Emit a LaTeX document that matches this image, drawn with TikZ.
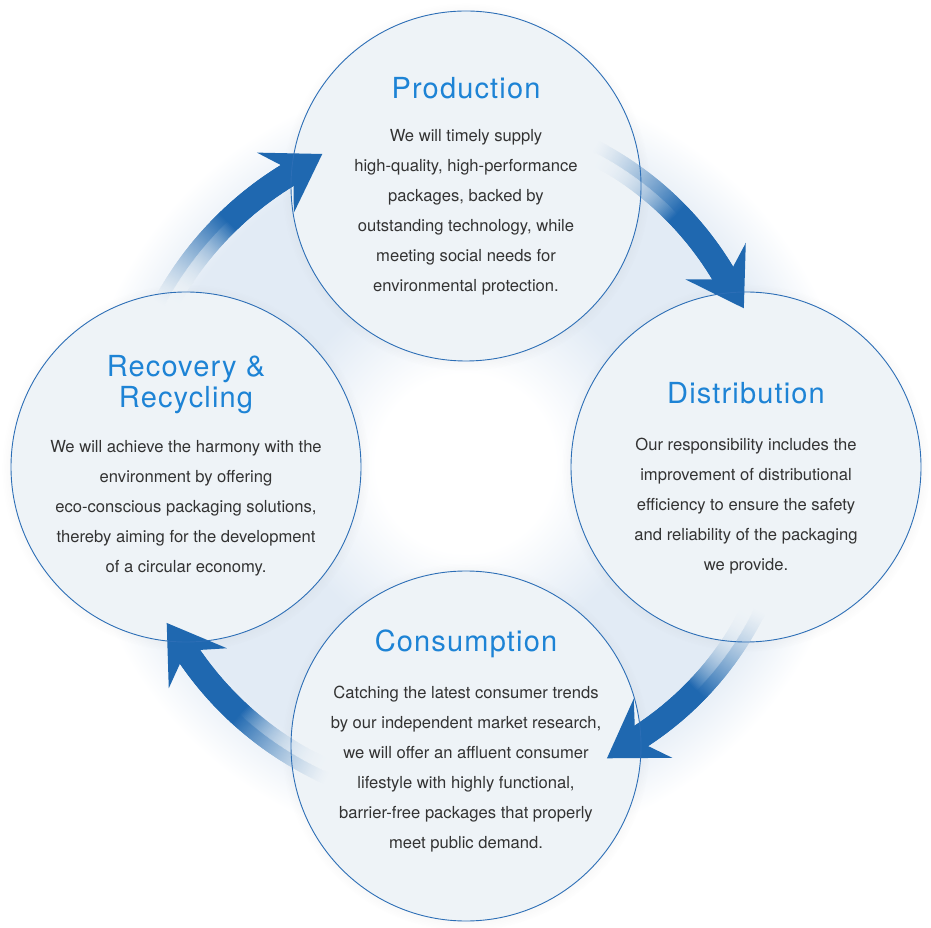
\documentclass[tikz,border=0pt]{standalone}
\usepackage{fontspec}
\setmainfont{TeX Gyre Heros}
\newfontfamily\headfont[LetterSpace=4]{TeX Gyre Heros}
\usetikzlibrary{positioning,shadows}

\definecolor{arrowblue}{RGB}{31,104,176}
\definecolor{rimblue}{RGB}{44,110,182}
\definecolor{headblue}{RGB}{29,131,213}
\definecolor{bubblefill}{RGB}{238,243,247}
\definecolor{glowblue}{RGB}{226,235,245}
\definecolor{inktext}{RGB}{51,51,51}

% light ring behind the four bubbles
\pgfdeclareradialshading{ringglow}{\pgfpoint{0bp}{0bp}}{color(0bp)=(white); color(4.8bp)=(white);
  color(10bp)=(glowblue); color(17.2bp)=(glowblue); color(21bp)=(white); color(50bp)=(white)}

% curved arrow round a hub: #1 hub, #2 radius, #3 angle of the neck, #4 angle of the tail
\newcommand{\cyclearrow}[4]{%
  \begin{scope}[shift={#1}, rotate=#3]
    \pgfmathsetmacro{\rout}{#2+6}
    \pgfmathsetmacro{\rin}{#2-6}
    \pgfmathsetmacro{\sweep}{#4-#3}
    \foreach \k in {119,118,...,0}{
      \pgfmathsetmacro{\aa}{ifthenelse(\k==0,-0.6,\sweep*\k/120-0.3)}
      \pgfmathsetmacro{\ab}{\sweep*(\k+1)/120}
      \pgfmathsetmacro{\pout}{100*min(1,1.7*(1-(\k+0.5)/120))^1.4}
      \pgfmathsetmacro{\pin}{100*min(1,1.7*(1-(\k+0.5)/120))^2.6}
      \draw[arrowblue!\pout!bubblefill, line width=12.4pt] (\aa:\rout) arc[start angle=\aa, end angle=\ab, radius=\rout];
      \draw[arrowblue!\pin!bubblefill, line width=12.4pt] (\aa:\rin) arc[start angle=\aa, end angle=\ab, radius=\rin];
    }
    \fill[arrowblue] (#2,-41) -- (#2+35.3,14) -- (#2+12,0) -- (#2-12,0) -- (#2-35.3,14) -- cycle;
  \end{scope}}

\begin{document}
\begin{tikzpicture}[x=1pt,y=1pt,
    bubble/.style={circle, fill=bubblefill, minimum size=350pt, inner sep=0pt,
      circular drop shadow={shadow scale=1.05, shadow xshift=0pt, shadow yshift=-1pt, opacity=0.14}},
    rim/.style={rimblue, line width=0.9pt},
    heading/.style={headblue, font=\headfont\fontsize{29}{31}\selectfont, align=center, inner sep=0pt, anchor=base},
    blurb/.style={inktext, font=\fontsize{16.6}{30}\selectfont, align=center, inner sep=0pt, anchor=base}]
  \useasboundingbox (0,0) rectangle (931,927);
  \coordinate (hub) at (466,460);
  \coordinate (hubtr) at (445,487);
  \fill[shading=ringglow] (0,0) rectangle (931,927);

  % the four stages
  \node[bubble] (prod) at (466,741) {};
  \node[bubble] (dist) at (746,460) {};
  \node[bubble] (cons) at (466,181) {};
  \node[bubble] (recy) at (186,460) {};

  % arrows, clockwise
  \cyclearrow{(hub)}{342}{121.5}{152}   % recovery -> production
  \cyclearrow{(hubtr)}{324}{31}{63}     % production -> distribution
  \cyclearrow{(hub)}{321}{-56.9}{-26}   % distribution -> consumption
  \cyclearrow{(hub)}{335}{214.5}{246}   % consumption -> recovery

  \foreach \b in {prod,dist,cons,recy}
    \draw[rim] (\b) circle (175);

  % texts, anchored on the base of their last line
  \node[heading] (prodhead) at ([yshift=87.5pt]prod.center) {Production};
  \node[blurb] (prodtext) at ([yshift=-105.5pt]prod.center) {We will timely supply\\high-quality, high-performance\\packages, backed by\\outstanding technology, while\\meeting social needs for\\environmental protection.};

  \node[heading] (disthead) at ([yshift=63.5pt]dist.center) {Distribution};
  \node[blurb] (disttext) at ([yshift=-103.5pt]dist.center) {Our responsibility includes the\\improvement of distributional\\efficiency to ensure the safety\\and reliability of the packaging\\we provide.};

  \node[heading] (conshead) at ([yshift=94.5pt]cons.center) {Consumption};
  \node[blurb] (constext) at ([yshift=-102.5pt]cons.center) {Catching the latest consumer trends\\by our independent market research,\\we will offer an affluent consumer\\lifestyle with highly functional,\\barrier-free packages that properly\\meet public demand.};

  \node[heading] (recyhead) at ([yshift=59.5pt]recy.center) {Recovery \&\\Recycling};
  \node[blurb] (recytext) at ([yshift=-105.5pt]recy.center) {We will achieve the harmony with the\\environment by offering\\eco-conscious packaging solutions,\\thereby aiming for the development\\of a circular economy.};
\end{tikzpicture}
\end{document}
